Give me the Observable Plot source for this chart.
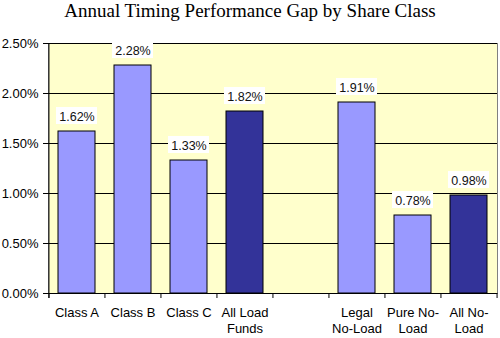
<!DOCTYPE html>
<html>
<head>
<meta charset="utf-8">
<script src="https://cdn.jsdelivr.net/npm/d3@7"></script>
<script src="https://cdn.jsdelivr.net/npm/@observablehq/plot@0.6"></script>
<style>
  html, body { margin: 0; padding: 0; background: white; }
  #title { height: 28px; line-height: 21px; padding-top: 0; box-sizing: border-box; text-align: center;
           font-family: "Liberation Serif", "Times New Roman", serif; font-size: 19px; color: #000; white-space: nowrap; }
  #chart svg { display: block; }
</style>
</head>
<body>
<div id="title">Annual Timing Performance Gap by Share Class</div>
<div id="chart"></div>
<script>
const categories = ["Class A", "Class B", "Class C", "All Load\nFunds", "", "Legal\nNo-Load", "Pure No-\nLoad", "All No-\nLoad"];
const values = [1.62, 2.28, 1.33, 1.82, null, 1.91, 0.78, 0.98];
const groups = ["class", "class", "class", "total", null, "class", "class", "total"];
const yTicks = [0, 0.5, 1, 1.5, 2, 2.5];

const data = categories.map((c, i) => ({cat: c, v: values[i], g: groups[i]})).filter(d => d.v != null);
const pct = d => d.toFixed(2) + "%";

const W = 500, H = 310, mL = 48, mR = 3;
const step = (W - mL - mR) / categories.length;

const chart = Plot.plot({
  width: W, height: H,
  marginTop: 15, marginBottom: 45, marginLeft: mL, marginRight: mR,
  style: {fontFamily: "Arial, 'Liberation Sans', sans-serif", fontSize: "13px", color: "#000", background: "white"},
  x: {domain: categories, paddingInner: 0.34, paddingOuter: 0.17, label: null},
  y: {domain: [0, 2.5], label: null},
  color: {domain: ["class", "total"], range: ["#9999FF", "#333399"]},
  marks: [
    Plot.frame({fill: "#FFFFCC", stroke: "#808080"}),
    Plot.ruleY(yTicks, {stroke: "#000"}),
    Plot.barY(data, {x: "cat", y: "v", fill: "g", stroke: "#000", strokeWidth: 1}),
    Plot.barY(data, {x: "cat", y1: "v", y2: "v", insetTop: -24, insetBottom: 7, insetLeft: -2, insetRight: -2, fill: "white"}),
    Plot.text(data, {x: "cat", y: "v", text: d => pct(d.v), dy: -15, fontSize: 12.5, fill: "#111"}),
    Plot.ruleY([0], {stroke: "#000"}),
    Plot.ruleX([categories[0]], {x: d => d, y1: -0.05, y2: 2.5, dx: -step / 2, stroke: "#000"}),
    Plot.ruleX(categories, {x: d => d, y1: -0.05, y2: 0, dx: -step / 2, stroke: "#000"}),
    Plot.ruleX([categories[categories.length - 1]], {x: d => d, y1: -0.05, y2: 0, dx: step / 2, stroke: "#000"}),
    Plot.axisY({ticks: yTicks, tickFormat: pct, tickSize: 5, tickPadding: 5, fontSize: 13, stroke: "#000"}),
    Plot.axisX({tickSize: 0, tickPadding: 12, fontSize: 13, lineHeight: 1.25})
  ]
});
document.getElementById("chart").appendChild(chart);
</script>
</body>
</html>
